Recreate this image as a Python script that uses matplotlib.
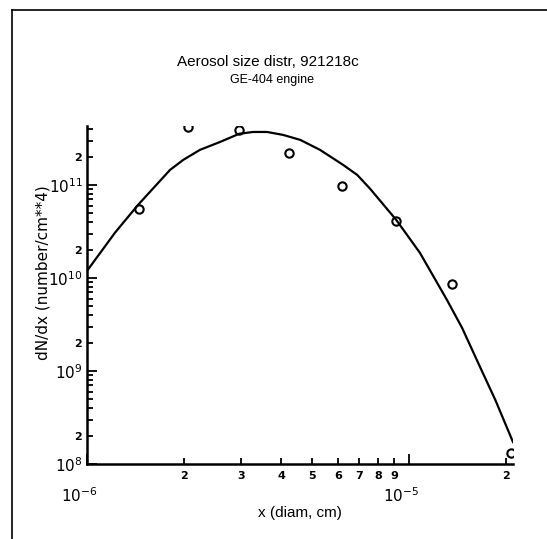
import math
import matplotlib
matplotlib.use("Agg")
import matplotlib.pyplot as plt
from matplotlib import font_manager
from matplotlib.lines import Line2D
from matplotlib.ticker import LogLocator, FuncFormatter
from matplotlib.transforms import ScaledTranslation

# puntos medidos (diametro en cm, dN/dx)
diam = [1.45e-6, 2.06e-6, 2.97e-6, 4.24e-6, 6.19e-6, 9.11e-6, 1.36e-5, 2.07e-5]
dndx = [5.5e10, 4.2e11, 3.9e11, 2.2e11, 9.8e10, 4.1e10, 8.6e9, 1.31e8]

# curva ajustada
curva_x = [1.0e-6, 1.22e-6, 1.44e-6, 1.81e-6, 1.99e-6, 2.24e-6, 2.59e-6, 2.97e-6,
           3.28e-6, 3.62e-6, 4.06e-6, 4.59e-6, 5.29e-6, 6.24e-6, 6.90e-6, 7.57e-6,
           9.12e-6, 1.08e-5, 1.31e-5, 1.46e-5, 1.66e-5, 1.85e-5, 2.10e-5]
curva_y = [1.19e10, 3.05e10, 6.1e10, 1.45e11, 1.86e11, 2.38e11, 2.90e11, 3.55e11,
           3.71e11, 3.71e11, 3.45e11, 3.05e11, 2.38e11, 1.64e11, 1.28e11, 9.06e10,
           4.2e10, 1.86e10, 5.8e9, 2.9e9, 1.10e9, 4.9e8, 1.72e8]

titulo = "Aerosol size distr, 921218c"
subtitulo = "GE-404 engine"
etiqueta_x = "x (diam, cm)"
etiqueta_y = "dN/dx (number/cm**4)"

instaladas = {f.name for f in font_manager.fontManager.ttflist}
fuente_titulo = "Liberation Sans Narrow" if "Liberation Sans Narrow" in instaladas else "Liberation Sans"

fig = plt.figure(figsize=(5.47, 5.39), dpi=100)
ax = fig.add_axes([87/547, 1-464/539, (513-87)/547, (464-126)/539])

ax.plot(curva_x, curva_y, color="black", lw=1.6)
ax.plot(diam, dndx, "o", ms=6, mfc="none", mec="black", mew=1.5)

ax.set_xscale("log")
ax.set_yscale("log")
ax.set_xlim(1e-6, 2.1e-5)
ax.set_ylim(1e8, 4.3e11)

for lado in ["top", "right"]:
    ax.spines[lado].set_visible(False)
for lado in ["left", "bottom"]:
    ax.spines[lado].set_linewidth(1.8)

ax.xaxis.set_minor_locator(LogLocator(subs=range(2, 10)))
ax.yaxis.set_minor_locator(LogLocator(subs=range(2, 10)))

def mantisa(v):
    return int(round(v / 10 ** math.floor(math.log10(v) + 1e-9)))

ax.xaxis.set_minor_formatter(FuncFormatter(lambda v, p: str(mantisa(v))))
ax.yaxis.set_minor_formatter(FuncFormatter(lambda v, p: "2" if mantisa(v) == 2 else ""))

ax.tick_params(which="both", direction="in", width=1.3, colors="black")
ax.tick_params(which="major", length=7)
ax.tick_params(which="minor", length=4)
ax.tick_params(axis="x", which="major", pad=16, labelsize=11)
ax.tick_params(axis="x", which="minor", pad=5, labelsize=8)
ax.tick_params(axis="y", which="major", pad=3, labelsize=11)
ax.tick_params(axis="y", which="minor", pad=4, labelsize=8)

# las etiquetas 10^-6 y 10^-5 van algo corridas a la izquierda
corrimiento = ScaledTranslation(-8/100, 0, fig.dpi_scale_trans)
for tick in ax.xaxis.get_major_ticks():
    tick.label1.set_transform(tick.label1.get_transform() + corrimiento)
for lbl in ax.get_xticklabels(minor=True) + ax.get_yticklabels(minor=True):
    lbl.set_fontweight("bold")

ax.set_xlabel(etiqueta_x, fontsize=11, family=fuente_titulo)
ax.xaxis.set_label_coords(0.5, -0.125)
ax.set_ylabel(etiqueta_y, fontsize=11)
ax.yaxis.label.set_va("center")
ax.yaxis.set_label_coords(-0.103, 0.565)

fig.text(268/547, 1-62/539, titulo, ha="center", va="center", fontsize=11, family=fuente_titulo)
fig.text(272/547, 1-80/539, subtitulo, ha="center", va="center", fontsize=9, family=fuente_titulo)

# marco del escaneo
fig.add_artist(Line2D([12/547, 12/547], [0, 1-10/539], color="black", lw=1.2))
fig.add_artist(Line2D([12/547, 1], [1-10/539, 1-10/539], color="black", lw=1.2))

fig.savefig("out.png", dpi=100)
